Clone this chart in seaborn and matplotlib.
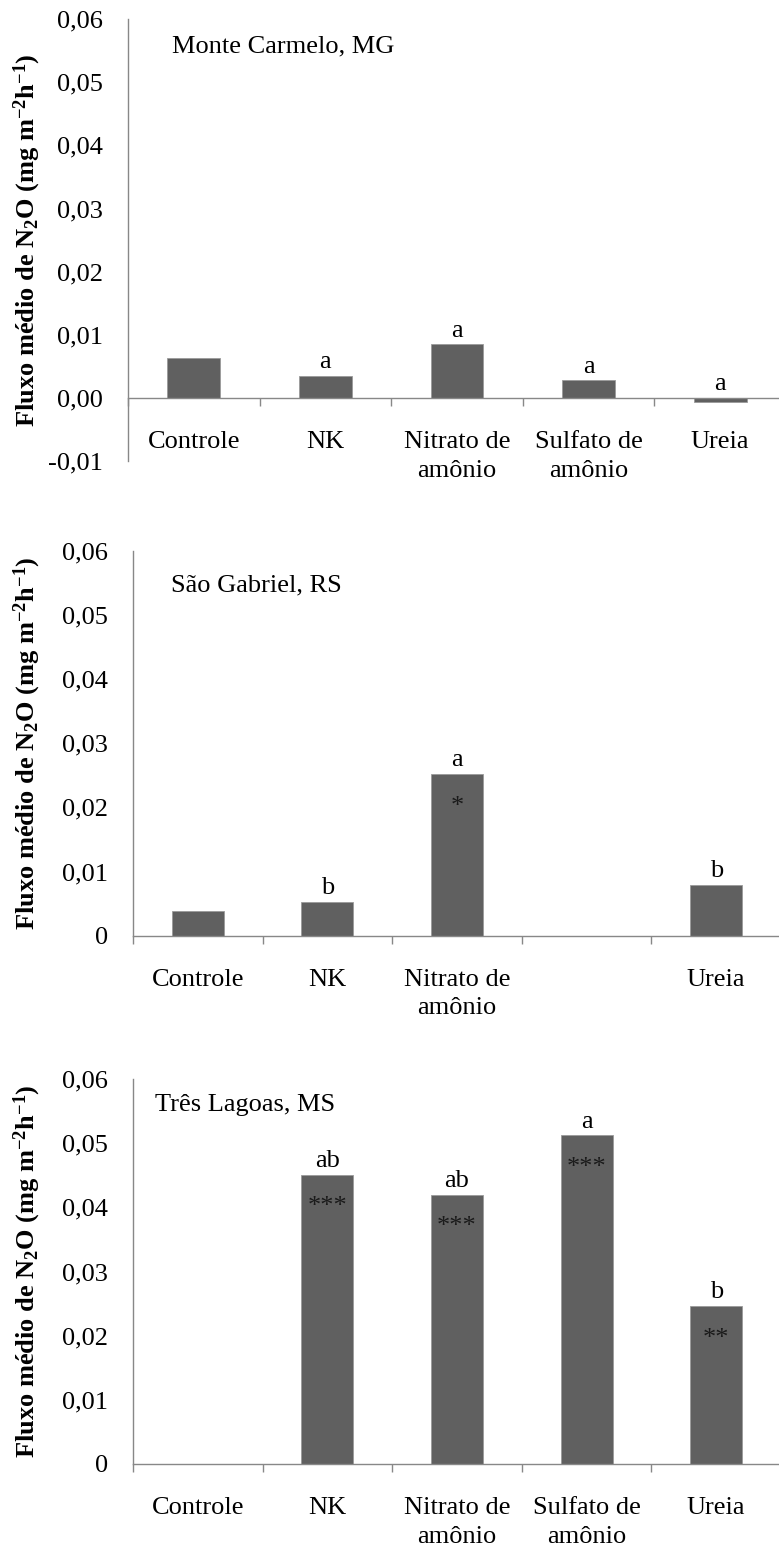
import numpy as np
import pandas as pd
import matplotlib
matplotlib.use("Agg")
import matplotlib.pyplot as plt
import seaborn as sns

# Data
categories = ["Controle", "NK", "Nitrato de amônio", "Sulfato de amônio", "Ureia"]

sites = ["Monte Carmelo, MG", "São Gabriel, RS", "Três Lagoas, MS"]

flux_mg = [0.0063, 0.0035, 0.0085, 0.0028, -0.0006]
flux_rs = [0.0039, 0.0053, 0.0252, np.nan, 0.0079]
flux_ms = [np.nan, 0.0451, 0.0420, 0.0512, 0.0246]

letters_mg = ["", "a", "a", "a", "a"]
letters_rs = ["", "b", "a", "", "b"]
letters_ms = ["", "ab", "ab", "a", "b"]

stars_mg = ["", "", "", "", ""]
stars_rs = ["", "", "*", "", ""]
stars_ms = ["", "***", "***", "***", "**"]

xlabels_full = ["Controle", "NK", "Nitrato de\namônio", "Sulfato de\namônio", "Ureia"]
xlabels_rs = ["Controle", "NK", "Nitrato de\namônio", "", "Ureia"]

yticks_mg = [-0.01, 0.0, 0.01, 0.02, 0.03, 0.04, 0.05, 0.06]
yticklabels_mg = ["-0,01", "0,00", "0,01", "0,02", "0,03", "0,04", "0,05", "0,06"]
yticks_other = [0.0, 0.01, 0.02, 0.03, 0.04, 0.05, 0.06]
yticklabels_other = ["0", "0,01", "0,02", "0,03", "0,04", "0,05", "0,06"]

sns.set_theme(style="white")
plt.rcParams["font.family"] = ["Liberation Serif", "DejaVu Serif"]
plt.rcParams["mathtext.fontset"] = "custom"
plt.rcParams["mathtext.rm"] = "Liberation Serif:bold"
plt.rcParams["mathtext.bf"] = "Liberation Serif:bold"
plt.rcParams["mathtext.default"] = "rm"

FS = 19
GREY = "#888888"
BAR = "#606060"

W, H = 779, 1548
fig = plt.figure(figsize=(W / 100, H / 100), dpi=100)

# axes boxes in pixels: left, top, right, bottom
boxes = [(128, 19, 786, 461.3), (133, 550.7, 781, 935.7), (133, 1079, 781, 1464)]
title_pos = [(0.067, 0.937), (0.059, 0.911), (0.034, 0.932)]

panels = [
    (flux_mg, letters_mg, stars_mg, xlabels_full, yticks_mg, yticklabels_mg),
    (flux_rs, letters_rs, stars_rs, xlabels_rs, yticks_other, yticklabels_other),
    (flux_ms, letters_ms, stars_ms, xlabels_full, yticks_other, yticklabels_other),
]

for i, (vals, letters, stars, xlabels, yt, ytl) in enumerate(panels):
    l, t, r, b = boxes[i]
    ax = fig.add_axes([l / W, 1 - b / H, (r - l) / W, (b - t) / H])
    df = pd.DataFrame({"cat": categories, "val": vals}).dropna()
    sns.barplot(data=df, x="cat", y="val", order=categories, color=BAR,
                saturation=1, width=0.4, edgecolor="#9a9a9a", linewidth=0.6, ax=ax)
    ax.set_xlim(-0.5, 4.5)
    ax.set_ylim(yt[0], yt[-1])
    ax.set_yticks(yt)
    ax.set_yticklabels(ytl)
    ax.set_xticks(range(len(categories)))
    ax.set_xticklabels(xlabels)
    ax.set_xticks(np.arange(-0.5, 5, 1), minor=True)
    ax.set_xlabel("")
    ax.set_ylabel("")

    for side in ["top", "right"]:
        ax.spines[side].set_visible(False)
    ax.spines["bottom"].set_position(("data", 0))
    for side in ["left", "bottom"]:
        ax.spines[side].set_color(GREY)
        ax.spines[side].set_linewidth(1.0)

    ax.tick_params(axis="y", direction="out", length=5, width=1.0, color=GREY,
                   pad=13, labelcolor="black", labelsize=FS)
    ax.tick_params(axis="x", which="major", length=0, pad=24, labelcolor="black",
                   labelsize=FS)
    ax.tick_params(axis="x", which="minor", direction="out", length=6, width=1.0,
                   color=GREY, bottom=True)
    for lab in ax.get_xticklabels():
        lab.set_linespacing(1.37)

    # significance letters above bars, asterisks inside bars
    for j, v in enumerate(vals):
        if np.isnan(v):
            continue
        if letters[j]:
            ax.annotate(letters[j], (j, max(v, 0)), xytext=(0, 2),
                        textcoords="offset points", ha="center", va="bottom",
                        fontsize=FS, color="black")
        if stars[j]:
            ax.annotate(stars[j], (j, v), xytext=(0, -28),
                        textcoords="offset points", ha="center", va="baseline",
                        fontsize=FS, color="#1a1a1a")

    ax.text(title_pos[i][0], title_pos[i][1], sites[i], transform=ax.transAxes,
            ha="left", va="center", fontsize=FS, color="black")

    fig.text(27 / W, 1 - ((t + b) / 2) / H,
             "Fluxo médio de N$_2$O (mg m$^{-2}$h$^{-1}$)",
             rotation=90, ha="center", va="center", fontsize=FS,
             fontweight="bold", color="black")

fig.savefig("out.png", dpi=100)
